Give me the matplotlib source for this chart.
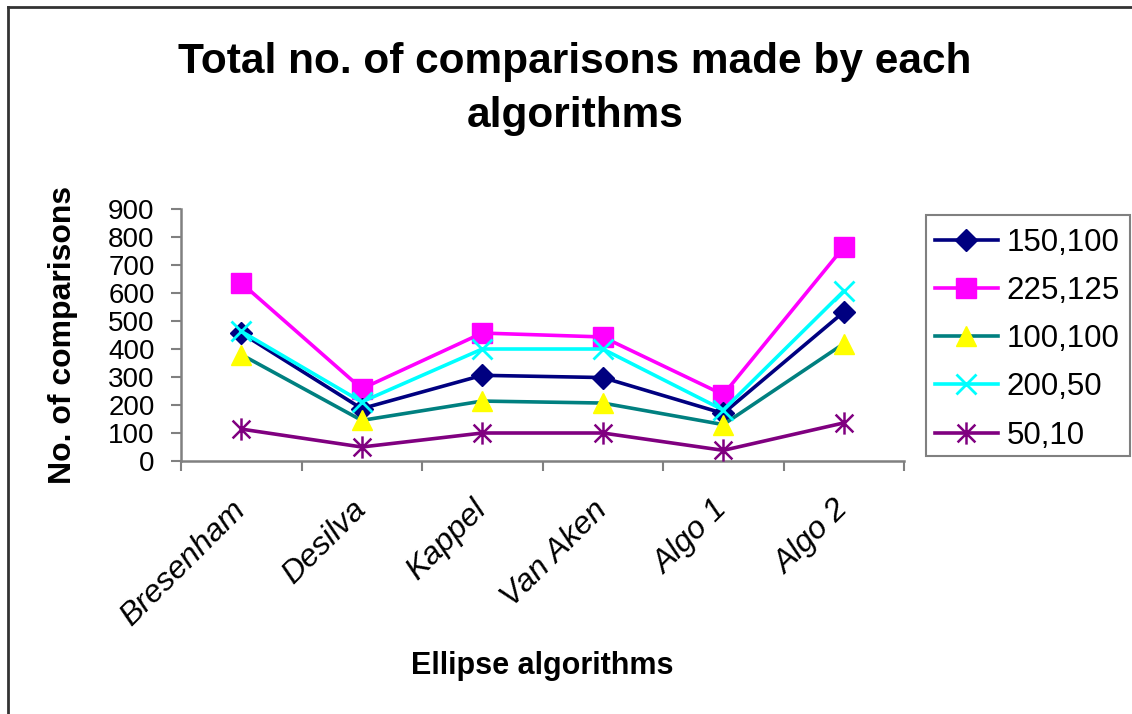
import matplotlib.pyplot as plt
from matplotlib.path import Path
from matplotlib.lines import Line2D
from matplotlib.patches import Rectangle
plt.switch_backend('agg')

plt.rcParams['font.family'] = ['Liberation Sans', 'DejaVu Sans']

algorithms = ["Bresenham", "Desilva", "Kappel", "Van Aken", "Algo 1", "Algo 2"]

s_150_100 = [457, 187, 306, 298, 170, 532]
s_225_125 = [636, 258, 457, 443, 237, 764]
s_100_100 = [380, 145, 214, 207, 130, 419]
s_200_50 = [463, 211, 400, 400, 182, 607]
s_50_10 = [114, 50, 100, 100, 38, 136]

y_ticks = [0, 100, 200, 300, 400, 500, 600, 700, 800, 900]

# excel style star: an x with a vertical bar through it
star = Path([(-1, -1), (1, 1), (-1, 1), (1, -1), (0, -1.25), (0, 1.25)],
            [Path.MOVETO, Path.LINETO, Path.MOVETO, Path.LINETO, Path.MOVETO, Path.LINETO])

W, H = 1132, 714
fig = plt.figure(figsize=(W / 100, H / 100), dpi=100)
ax = fig.add_axes([181 / W, 1 - 461 / H, 723 / W, 252 / H])

x = list(range(1, len(algorithms) + 1))
lw = 2.6
ax.plot(x, s_150_100, color="#000080", lw=lw, marker="D", ms=11, mfc="#000080", mec="#000080", label="150,100", zorder=3)
ax.plot(x, s_225_125, color="#FF00FF", lw=lw, marker="s", ms=14, mfc="#FF00FF", mec="#FF00FF", label="225,125", zorder=2)
ax.plot(x, s_100_100, color="#008080", lw=lw, marker="^", ms=15, mfc="#FFFF00", mec="#FFFF00", label="100,100", zorder=3)
ax.plot(x, s_200_50, color="#00FFFF", lw=lw, marker="x", ms=14, mew=2, mec="#00FFFF", label="200,50", zorder=4)
ax.plot(x, s_50_10, color="#800080", lw=lw, marker=star, ms=16, mew=1.8, mec="#800080", label="50,10", zorder=3)

ax.set_xlim(0.5, len(algorithms) + 0.5)
ax.set_ylim(0, 900)
ax.set_yticks(y_ticks)
ax.set_yticklabels([str(v) for v in y_ticks], fontsize=20)

# ticks between categories, labels at category centres
ax.set_xticks([i + 0.5 for i in range(0, len(algorithms) + 1)])
ax.set_xticklabels([])
ax.set_xticks(x, minor=True)
ax.set_xticklabels(algorithms, minor=True, fontsize=23, style="italic",
                   rotation=45, ha="right", va="center", rotation_mode="anchor")
ax.tick_params(axis="x", which="minor", length=0, pad=32)
ax.tick_params(axis="x", which="major", length=7, width=1.5, color="#808080", direction="out")
ax.tick_params(axis="y", length=7, width=1.5, color="#808080", direction="out", pad=12)

for side in ["top", "right"]:
    ax.spines[side].set_visible(False)
for side in ["left", "bottom"]:
    ax.spines[side].set_color("#808080")
    ax.spines[side].set_linewidth(1.8)

ax.set_ylabel("No. of comparisons", fontsize=23, fontweight="bold", labelpad=22)
ax.set_xlabel("Ellipse algorithms", fontsize=22, fontweight="bold", labelpad=14)

fig.text(575 / W, 1 - 89 / H, "Total no. of comparisons made by each\nalgorithms",
         fontsize=30.5, fontweight="bold", ha="center", va="center",
         multialignment="center", linespacing=1.42)

# legend entries without frame, the box is drawn separately
leg = ax.legend(loc="upper left", bbox_to_anchor=(935 / W, 1 - 228 / H),
                bbox_transform=fig.transFigure, borderaxespad=0, borderpad=0,
                fontsize=22.5, frameon=False, handlelength=2.0,
                handletextpad=0.3, labelspacing=0.58)
fig.add_artist(Rectangle((926 / W, 1 - 456 / H), 204 / W, 241 / H, transform=fig.transFigure,
                         fill=False, edgecolor="#808080", lw=1.5))

# outer chart border (only top and left show in the picture)
fig.add_artist(Line2D([8 / W, 8 / W], [0, 1 - 7 / H], transform=fig.transFigure, color="#333333", lw=2))
fig.add_artist(Line2D([8 / W, 1], [1 - 7 / H, 1 - 7 / H], transform=fig.transFigure, color="#333333", lw=2))

plt.savefig("out.png", dpi=100)
